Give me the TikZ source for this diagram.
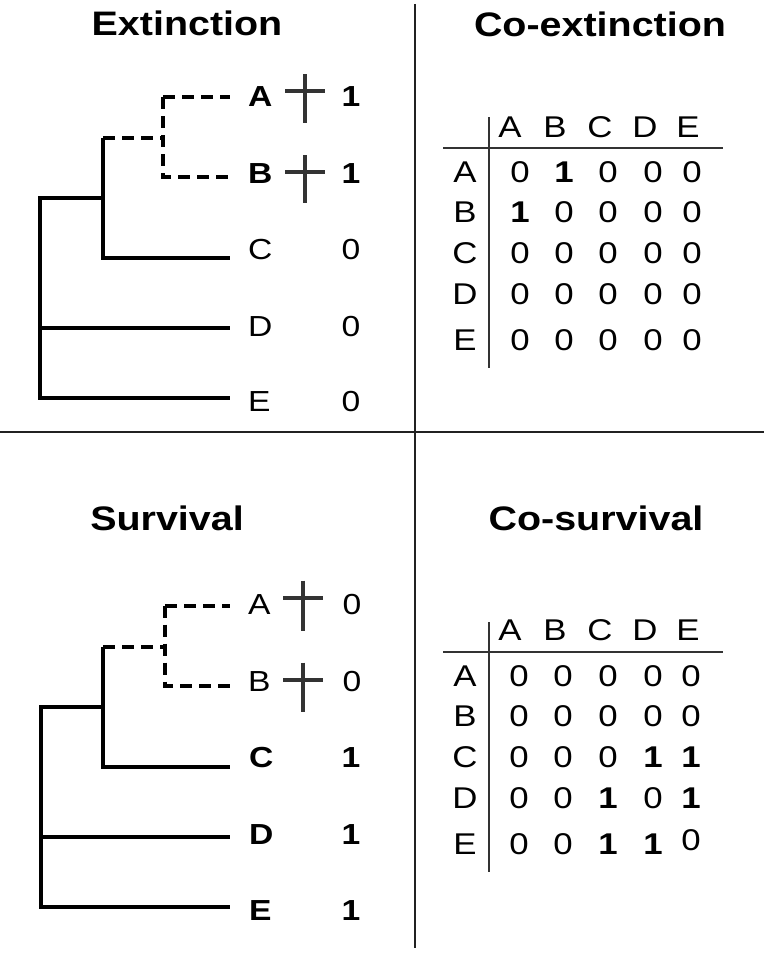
\documentclass[tikz,border=0pt]{standalone}
\usepackage{fontspec}
\setmainfont{Liberation Sans}[FakeStretch=1.16]
\begin{document}
\begin{tikzpicture}[x=1pt,y=-1pt,
  every node/.style={inner sep=0pt,outer sep=0pt},
  ttl/.style={font=\fontsize{34}{34}\selectfont\bfseries,anchor=base},
  tip/.style={font=\fontsize{29}{29}\selectfont,anchor=base west},
  tipval/.style={font=\fontsize{29}{29}\selectfont,anchor=base},
  mtx/.style={font=\fontsize{30}{30}\selectfont,anchor=base},
  branch/.style={line width=4pt,line join=miter,black},
  lost/.style={branch,dash pattern=on 12pt off 7pt},
  crossmark/.style={line width=4pt,draw=black!80},
  divider/.style={line width=2pt,draw=black!87},
  rule/.style={line width=2pt,draw=black!80}]
\useasboundingbox (0,0) rectangle (764,958);

% ---------- panel dividers ----------
\coordinate (dvT) at (415,4);
\coordinate (dvB) at (415,948);
\coordinate (dhL) at (0,432);
\coordinate (dhR) at (764,432);
\draw[divider] (dvT) -- (dvB);
\draw[divider] (dhL) -- (dhR);

% ---------- titles ----------
\node[ttl] (t1) at (187,36) {Extinction};
\node[ttl] (t2) at (600,37) {Co-extinction};
\node[ttl] (t3) at (167,530) {Survival};
\node[ttl] (t4) at (596,530) {Co-survival};

% ---------- extinction tree ----------
\begin{scope}
  \node[tip] (eA) at (248,106) {\bfseries A};
  \node[tip] (eB) at (248,183) {\bfseries B};
  \node[tip] (eC) at (248,259) {C};
  \node[tip] (eD) at (248,336) {D};
  \node[tip] (eE) at (248,411) {E};
  \node[tipval] (evA) at (351,106) {\bfseries 1};
  \node[tipval] (evB) at (351,183) {\bfseries 1};
  \node[tipval] (evC) at (351,259) {0};
  \node[tipval] (evD) at (351,336) {0};
  \node[tipval] (evE) at (351,411) {0};
  \coordinate (eRoot) at (40,198);
  \coordinate (eRootE) at (40,398);
  \coordinate (eRootD) at (40,328);
  \coordinate (eN) at (103,198);
  \coordinate (eNtop) at (103,138);
  \coordinate (eNC) at (103,258);
  \coordinate (eAB) at (163,138);
  \coordinate (eABa) at (163,97);
  \coordinate (eABb) at (163,177);
  \coordinate (eendA) at (230,97);
  \coordinate (eendB) at (230,177);
  \coordinate (eendC) at (230,258);
  \coordinate (eendD) at (230,328);
  \coordinate (eendE) at (230,398);
  \draw[branch] (eN) -- (eRoot) -- (eRootE) -- (eendE);
  \draw[branch] (eRootD) -- (eendD);
  \draw[branch] (eNtop) -- (eNC) -- (eendC);
  \draw[lost] (eNtop) -- (eAB);
  \draw[lost] (eABa) -- (eendA);
  \draw[lost] (eABa) -- (eABb) -- (eendB);
  % crosses
  \draw[crossmark] (285,91) -- (325,91) (305,74) -- (305,123);
  \draw[crossmark] (285,172) -- (325,172) (305,155) -- (305,203);
\end{scope}

% ---------- survival tree ----------
\begin{scope}[yshift=-508.5pt]
  \node[tip] (sA) at (248,106) {A};
  \node[tip] (sB) at (248,183) {B};
  \node[tip] (sC) at (249,259) {\bfseries C};
  \node[tip] (sD) at (249,336) {\bfseries D};
  \node[tip] (sE) at (249,412) {\bfseries E};
  \node[tipval] (svA) at (352,106) {0};
  \node[tipval] (svB) at (352,183) {0};
  \node[tipval] (svC) at (351,259) {\bfseries 1};
  \node[tipval] (svD) at (351,336) {\bfseries 1};
  \node[tipval] (svE) at (351,412) {\bfseries 1};
  \coordinate (sRoot) at (41,198);
  \coordinate (sRootE) at (41,398);
  \coordinate (sRootD) at (41,328);
  \coordinate (sN) at (103,198);
  \coordinate (sNtop) at (103,138);
  \coordinate (sNC) at (103,258);
  \coordinate (sAB) at (165,138);
  \coordinate (sABa) at (165,97);
  \coordinate (sABb) at (165,177);
  \coordinate (sendA) at (230,97);
  \coordinate (sendB) at (230,177);
  \coordinate (sendC) at (230,258);
  \coordinate (sendD) at (230,328);
  \coordinate (sendE) at (230,398);
  \draw[branch] (sN) -- (sRoot) -- (sRootE) -- (sendE);
  \draw[branch] (sRootD) -- (sendD);
  \draw[branch] (sNtop) -- (sNC) -- (sendC);
  \draw[lost] (sNtop) -- (sAB);
  \draw[lost] (sABa) -- (sendA);
  \draw[lost] (sABa) -- (sABb) -- (sendB);
  \draw[crossmark] (283,89) -- (323,89) (303,72) -- (303,122);
  \draw[crossmark] (283,171) -- (323,171) (303,154) -- (303,203);
\end{scope}

% ---------- co-extinction matrix ----------
\coordinate (m1hl) at (443,148);
\coordinate (m1hr) at (723,148);
\coordinate (m1vt) at (489,117);
\coordinate (m1vb) at (489,368);
\draw[rule] (m1hl) -- (m1hr);
\draw[rule] (m1vt) -- (m1vb);
\foreach \L/\hx in {A/510,B/555,C/600,D/645,E/688}
  \node[mtx] (m1h\L) at (\hx,137) {\L};
\foreach \L/\ry in {A/182,B/222,C/263,D/304,E/350}
  \node[mtx] (m1r\L) at (465,\ry) {\L};
\foreach \L/\ry/\vals in {A/182/{0,\bfseries 1,0,0,0},B/222/{\bfseries 1,0,0,0,0},
    C/263/{0,0,0,0,0},D/304/{0,0,0,0,0},E/350/{0,0,0,0,0}}
  \foreach \v [count=\i] in \vals {
    \pgfmathsetmacro\cx{{520,564,608,653,692}[\i-1]}
    \node[mtx] (m1\L\i) at (\cx,\ry) {\v};
  }

% ---------- co-survival matrix ----------
\coordinate (m2hl) at (443,652);
\coordinate (m2hr) at (723,652);
\coordinate (m2vt) at (489,622);
\coordinate (m2vb) at (489,872);
\draw[rule] (m2hl) -- (m2hr);
\draw[rule] (m2vt) -- (m2vb);
\foreach \L/\hx in {A/510,B/555,C/600,D/645,E/688}
  \node[mtx] (m2h\L) at (\hx,640) {\L};
\foreach \L/\ry in {A/686,B/726,C/767,D/808,E/854}
  \node[mtx] (m2r\L) at (465,\ry) {\L};
\foreach \L/\ry/\vals in {A/686/{0,0,0,0,0},B/726/{0,0,0,0,0},
    C/767/{0,0,0,\bfseries 1,\bfseries 1},D/808/{0,0,\bfseries 1,0,\bfseries 1},
    E/854/{0,0,\bfseries 1,\bfseries 1,\raisebox{4pt}{0}}}
  \foreach \v [count=\i] in \vals {
    \pgfmathsetmacro\cx{{519,563,608,653,691}[\i-1]}
    \node[mtx] (m2\L\i) at (\cx,\ry) {\v};
  }
\end{tikzpicture}
\end{document}
